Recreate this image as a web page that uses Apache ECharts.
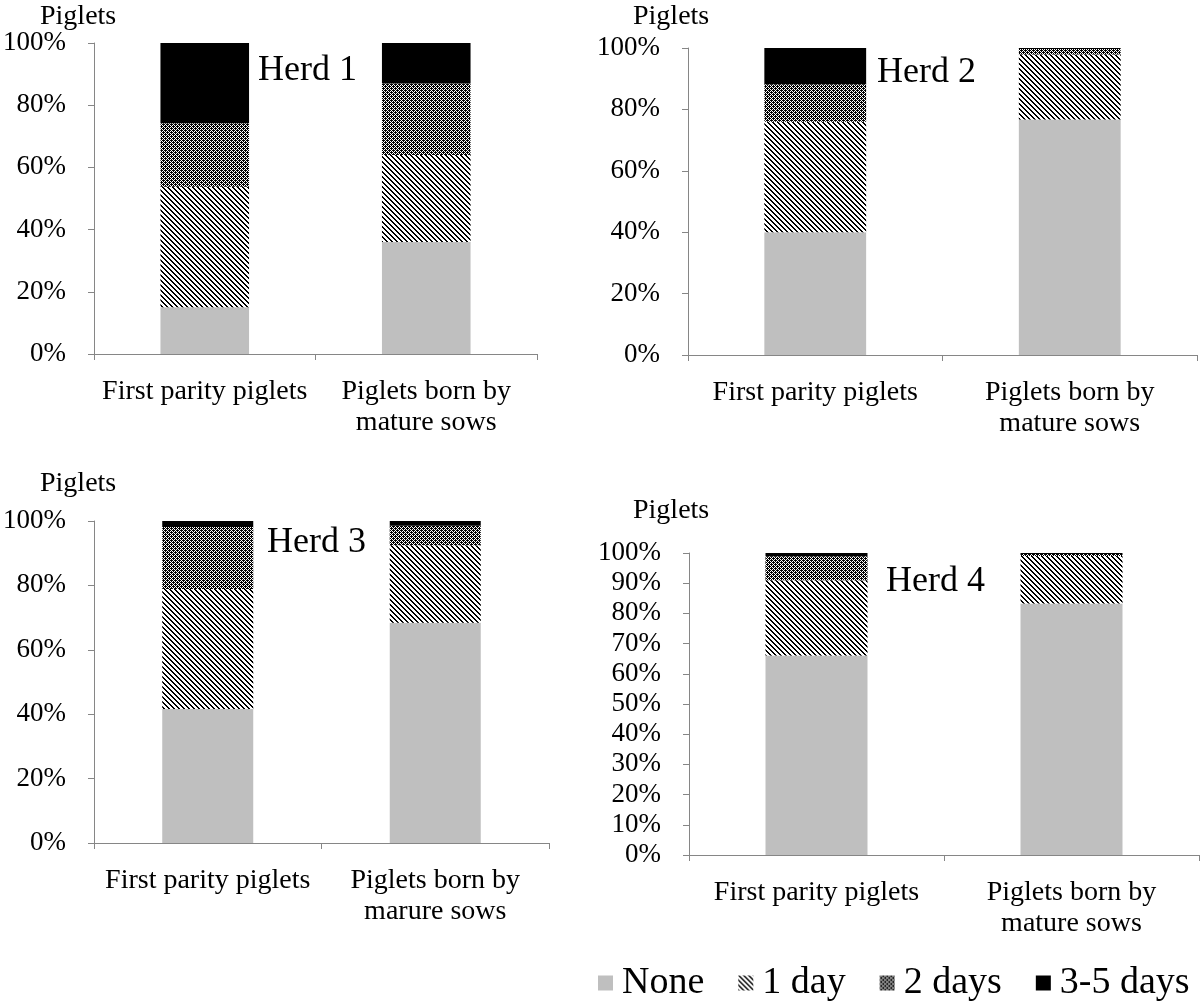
<!DOCTYPE html>
<html>
<head>
<meta charset="utf-8">
<script src="https://cdn.jsdelivr.net/npm/echarts@6/dist/echarts.min.js"></script>
<style>html,body{margin:0;padding:0;background:#fff}#c{width:1200px;height:1006px}</style>
</head>
<body>
<div id="c"></div>
<script>
// ---- data ----
const seriesNames = ['None', '1 day', '2 days', '3-5 days'];
const categoriesMature = ['First parity piglets', 'Piglets born by\nmature sows'];
const categoriesMarure = ['First parity piglets', 'Piglets born by\nmarure sows'];
const herdTitles = ['Herd 1', 'Herd 2', 'Herd 3', 'Herd 4'];

const herd1None = [15.0, 36.0];
const herd1Day1 = [38.8, 28.0];
const herd1Day2 = [20.4, 23.0];
const herd1Day35 = [25.8, 13.0];

const herd2None = [40.0, 76.7];
const herd2Day1 = [36.0, 21.2];
const herd2Day2 = [12.2, 1.8];
const herd2Day35 = [11.8, 0.3];

const herd3None = [41.6, 68.4];
const herd3Day1 = [37.3, 24.1];
const herd3Day2 = [19.2, 6.0];
const herd3Day35 = [1.9, 1.5];

const herd4None = [66.1, 83.3];
const herd4Day1 = [24.9, 15.7];
const herd4Day2 = [7.9, 0.7];
const herd4Day35 = [1.1, 0.3];

// ---- patterns ----
function makeTile(size, isBlack) {
  const c = document.createElement('canvas');
  c.width = size; c.height = size;
  const ctx = c.getContext('2d');
  const img = ctx.createImageData(size, size);
  for (let y = 0; y < size; y++) for (let x = 0; x < size; x++) {
    const v = isBlack(x, y) ? 0 : 255;
    const i = (y * size + x) * 4;
    img.data[i] = v; img.data[i+1] = v; img.data[i+2] = v; img.data[i+3] = 255;
  }
  ctx.putImageData(img, 0, 0);
  return c;
}
const stripeTile = makeTile(5, (x, y) => (((x - y) % 5) + 5) % 5 < 2);
const checkTile = makeTile(4, (x, y) => {
  if ((x + y) % 2 === 0) return true;
  return (x === 1 && y === 2) || (x === 3 && y === 0);
});

const colors = [
  '#bfbfbf',
  { image: stripeTile, repeat: 'repeat' },
  { image: checkTile, repeat: 'repeat' },
  '#000000'
];

const FONT = 'Liberation Serif';
const axisGray = '#868686';

const grids = [
  { left: 94, top: 43, width: 443, height: 311 },
  { left: 688, top: 48, width: 509, height: 307 },
  { left: 93, top: 521, width: 456, height: 322 },
  { left: 689, top: 553, width: 510, height: 302 }
];
const panelCats = [categoriesMature, categoriesMature, categoriesMarure, categoriesMature];
const panelIntervals = [20, 20, 20, 10];
const panelData = [
  [herd1None, herd1Day1, herd1Day2, herd1Day35],
  [herd2None, herd2Day1, herd2Day2, herd2Day35],
  [herd3None, herd3Day1, herd3Day2, herd3Day35],
  [herd4None, herd4Day1, herd4Day2, herd4Day35]
];

const xAxes = [], yAxes = [], series = [];
for (let p = 0; p < 4; p++) {
  xAxes.push({
    type: 'category', gridIndex: p, data: panelCats[p],
    axisLine: { lineStyle: { color: axisGray, width: 1 } },
    axisTick: { show: true, alignWithLabel: false, length: 6, lineStyle: { color: axisGray } },
    axisLabel: { interval: 0, margin: 22, color: '#000', fontFamily: FONT, fontSize: 28, lineHeight: 31 }
  });
  yAxes.push({
    type: 'value', gridIndex: p, min: 0, max: 100, interval: panelIntervals[p],
    splitLine: { show: false },
    axisLine: { show: true, lineStyle: { color: axisGray, width: 1 } },
    axisTick: { show: true, length: 6, lineStyle: { color: axisGray } },
    axisLabel: { margin: 28, color: '#000', fontFamily: FONT, fontSize: 27, formatter: '{value}%' }
  });
  for (let s = 0; s < 4; s++) {
    series.push({
      name: seriesNames[s], type: 'bar', stack: 'herd' + p,
      xAxisIndex: p, yAxisIndex: p, barWidth: '40%',
      data: panelData[p][s],
      itemStyle: { color: colors[s] },
      emphasis: { disabled: true },
      animation: false
    });
  }
}

const pigletPos = [[40, 3], [633, 3], [40, 470], [633, 497]];
const herdPos = [[258, 53], [877, 55], [267, 525], [886, 564]];
const graphic = [];
for (let p = 0; p < 4; p++) {
  graphic.push({ type: 'text', left: pigletPos[p][0], top: pigletPos[p][1],
    style: { text: 'Piglets', font: '28px "' + FONT + '"', fill: '#000' } });
  graphic.push({ type: 'text', left: herdPos[p][0], top: herdPos[p][1],
    style: { text: herdTitles[p], font: '36px "' + FONT + '"', fill: '#000' } });
}

const chart = echarts.init(document.getElementById('c'), null, { renderer: 'canvas' });
chart.setOption({
  animation: false,
  backgroundColor: '#fff',
  grid: grids,
  xAxis: xAxes,
  yAxis: yAxes,
  series: series,
  graphic: graphic,
  legend: {
    data: seriesNames, left: 598, top: 964, padding: 0,
    itemWidth: 15, itemHeight: 15, itemGap: 34, icon: 'rect',
    textStyle: { fontFamily: FONT, fontSize: 38, color: '#000', padding: [0, 0, 0, 4] }
  }
});
</script>
</body>
</html>
